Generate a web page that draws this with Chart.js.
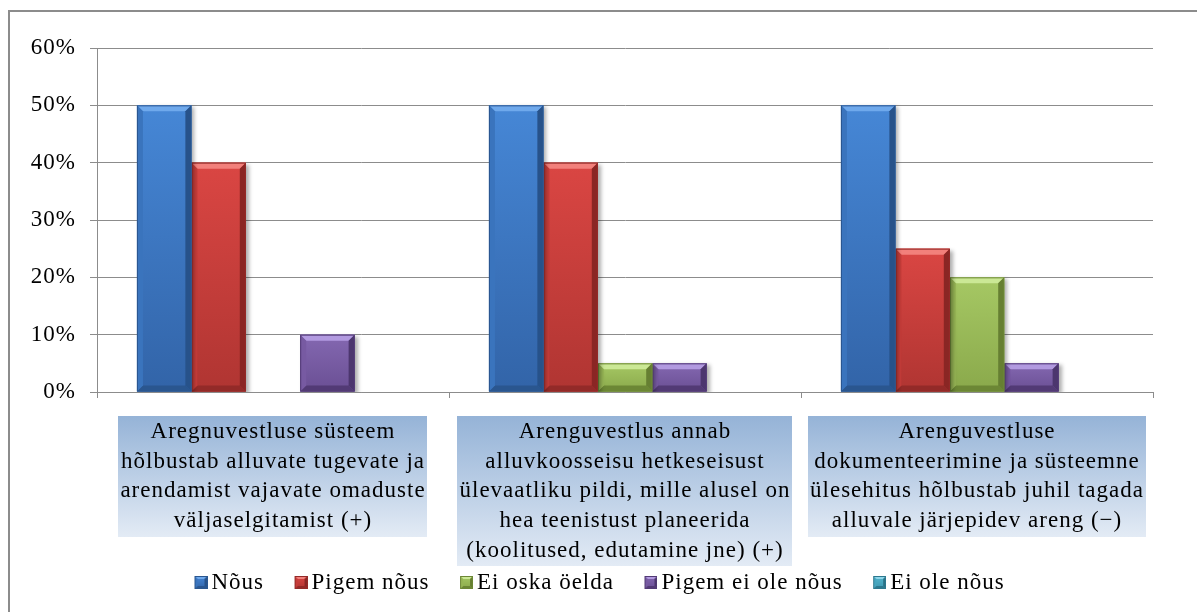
<!DOCTYPE html>
<html>
<head>
<meta charset="utf-8">
<script src="https://cdn.jsdelivr.net/npm/chart.js@4.4.1/dist/chart.umd.min.js"></script>
<style>
  html, body { margin: 0; padding: 0; background: #ffffff; }
  #wrap { position: relative; width: 1197px; height: 612px; overflow: hidden; }
  #frame { position: absolute; left: 8px; top: 10px; width: 1400px; height: 800px;
           border: 2px solid #8c8c8c; box-sizing: border-box; }
  #c { position: absolute; left: 0; top: 0; }
</style>
</head>
<body>
<div id="wrap">
  <div id="frame"></div>
  <canvas id="c" width="1197" height="612"></canvas>
</div>
<script>
// Survey statements (one entry per category, split into display lines)
const categories = [
  ['Aregnuvestluse süsteem', 'hõlbustab alluvate tugevate ja', 'arendamist vajavate omaduste', 'väljaselgitamist (+)'],
  ['Arenguvestlus annab', 'alluvkoosseisu hetkeseisust', 'ülevaatliku pildi, mille alusel on', 'hea teenistust planeerida', '(koolitused, edutamine jne) (+)'],
  ['Arenguvestluse', 'dokumenteerimine ja süsteemne', 'ülesehitus hõlbustab juhil tagada', 'alluvale järjepidev areng (−)']
];

// Answer options
const seriesNames = ['Nõus', 'Pigem nõus', 'Ei oska öelda', 'Pigem ei ole nõus', 'Ei ole nõus'];

// Share of respondents per answer, in percent
const nous        = [50, 50, 50];
const pigemNous   = [40, 40, 25];
const eiOska      = [0, 5, 20];
const pigemEiOle  = [10, 5, 5];
const eiOle       = [0, 0, 0];

// Value axis
const yMin = 0, yMax = 60, yStep = 10;

const seriesValues = [nous, pigemNous, eiOska, pigemEiOle, eiOle];

// Bevelled bar palettes
const palettes = [
  { base: '#3e7bc8', top: '#4687d6', bottom: '#3264a8', light: '#6fa9ec', dark: '#2a568f', left: '#3a74bd', right: '#27528a' },
  { base: '#cf3f3c', top: '#da4643', bottom: '#b03532', light: '#f2807b', dark: '#932a28', left: '#c63d3a', right: '#8a2624' },
  { base: '#9bbb59', top: '#a6c864', bottom: '#8aa94b', light: '#cbe895', dark: '#6c8735', left: '#97b655', right: '#667f32' },
  { base: '#7a5ea6', top: '#8468b1', bottom: '#6a4f94', light: '#b29ae0', dark: '#523a75', left: '#775aa2', right: '#4c366e' },
  { base: '#4bacc6', top: '#55b6cf', bottom: '#3d97af', light: '#8ed6ea', dark: '#2d788e', left: '#47a6bf', right: '#2a7186' }
];

const FONT_FAMILY = '"Liberation Serif", "Times New Roman", serif';
const FONT_SIZE = 23;
const LINE_H = 1.29;
const LETTER = '1px';
const TICK_LEN = 6;
const TICK_PAD = 19;
const GRID = '#8c8c8c';

// Legend marker geometry: a wide transparent canvas with the swatch at its right end
const MARK_SLOT = 30, MARK_W = 45, MARK_SIZE = 13;
const LEGEND_LEFT = 164;

function poly(ctx, pts, color) {
  ctx.beginPath();
  ctx.moveTo(pts[0][0], pts[0][1]);
  for (let i = 1; i < pts.length; i++) ctx.lineTo(pts[i][0], pts[i][1]);
  ctx.closePath();
  ctx.fillStyle = color;
  ctx.fill();
}

function bevelRect(ctx, l, t, w, h, pal, e) {
  const r = l + w, b = t + h;
  const g = ctx.createLinearGradient(0, t, 0, b);
  g.addColorStop(0, pal.top);
  g.addColorStop(1, pal.bottom);
  ctx.fillStyle = g;
  ctx.fillRect(l, t, w, h);
  poly(ctx, [[l, t], [r, t], [r - e, t + e], [l + e, t + e]], pal.light);
  poly(ctx, [[l, b], [r, b], [r - e, b - e], [l + e, b - e]], pal.dark);
  poly(ctx, [[l, t], [l + e, t + e], [l + e, b - e], [l, b]], pal.left);
  poly(ctx, [[r, t], [r - e, t + e], [r - e, b - e], [r, b]], pal.right);
  ctx.strokeStyle = pal.dark;
  ctx.lineWidth = 1;
  ctx.strokeRect(l + 0.5, t + 0.5, w - 1, h - 1);
}

function makeMarker(pal) {
  const c = document.createElement('canvas');
  c.width = MARK_W; c.height = MARK_SIZE;
  bevelRect(c.getContext('2d'), MARK_W - MARK_SIZE, 0, MARK_SIZE, MARK_SIZE, pal, 3);
  return c;
}
const markers = palettes.map(makeMarker);

// Letter spacing for all canvas text; legend placement
const spacingPlugin = {
  id: 'spacing',
  beforeUpdate(chart) { chart.ctx.letterSpacing = LETTER; },
  beforeDraw(chart) { chart.ctx.letterSpacing = LETTER; },
  afterLayout(chart) {
    if (chart.legend) chart.legend.left = LEGEND_LEFT;
  }
};

// Gradient boxes behind the category labels
const labelBoxPlugin = {
  id: 'labelBoxes',
  beforeDraw(chart) {
    const ctx = chart.ctx, xs = chart.scales.x;
    const lh = FONT_SIZE * LINE_H;
    const top = xs.top + TICK_LEN + TICK_PAD - 1;
    ctx.save();
    ctx.font = FONT_SIZE + 'px ' + FONT_FAMILY;
    ctx.letterSpacing = LETTER;
    categories.forEach((lines, i) => {
      const cx = xs.getPixelForTick(i);
      const w = Math.max(...lines.map(s => ctx.measureText(s).width)) + 4;
      const h = lines.length * lh + 2;
      const g = ctx.createLinearGradient(0, top, 0, top + h);
      g.addColorStop(0, '#95b3d7');
      g.addColorStop(1, '#e3ebf5');
      ctx.fillStyle = g;
      ctx.fillRect(Math.round(cx - w / 2), Math.round(top), Math.round(w), Math.round(h));
    });
    ctx.restore();
  }
};

// Soft shadow and bevel on every bar
const bevelPlugin = {
  id: 'bevel',
  beforeDatasetDraw(chart) {
    const ctx = chart.ctx;
    ctx.shadowColor = 'rgba(0,0,0,0.32)';
    ctx.shadowBlur = 4;
    ctx.shadowOffsetX = 3;
    ctx.shadowOffsetY = 2;
  },
  afterDatasetDraw(chart, args) {
    const ctx = chart.ctx;
    ctx.shadowColor = 'rgba(0,0,0,0)';
    ctx.shadowBlur = 0;
    ctx.shadowOffsetX = 0;
    ctx.shadowOffsetY = 0;
    const pal = palettes[args.index];
    args.meta.data.forEach(bar => {
      const p = bar.getProps(['x', 'y', 'base', 'width'], true);
      const h = p.base - p.y;
      if (h < 1) return;
      const e = Math.min(6, h / 3, p.width / 3);
      ctx.save();
      bevelRect(ctx, p.x - p.width / 2, p.y, p.width, h, pal, e);
      ctx.restore();
    });
  }
};

const chart = new Chart(document.getElementById('c'), {
  type: 'bar',
  data: {
    labels: categories,
    datasets: seriesNames.map((name, i) => ({
      label: name,
      data: seriesValues[i],
      backgroundColor: palettes[i].base,
      borderWidth: 0,
      categoryPercentage: 0.773,
      barPercentage: 1
    }))
  },
  options: {
    responsive: false,
    animation: false,
    devicePixelRatio: 1,
    layout: { padding: { left: 0, right: 44, top: 48, bottom: 8 } },
    scales: {
      x: {
        afterFit(scale) { scale.height = 173; },
        grid: { display: true, drawOnChartArea: false, drawTicks: true, tickLength: TICK_LEN, color: GRID, lineWidth: 1 },
        border: { display: true, color: GRID, width: 1 },
        ticks: {
          autoSkip: false,
          maxRotation: 0,
          minRotation: 0,
          padding: TICK_PAD,
          color: '#000000',
          font: { family: FONT_FAMILY, size: FONT_SIZE, lineHeight: LINE_H }
        }
      },
      y: {
        min: yMin,
        max: yMax,
        afterFit(scale) { scale.width = 97; },
        grid: { color: GRID, lineWidth: 1, tickLength: 7 },
        border: { display: true, color: GRID, width: 1 },
        ticks: {
          stepSize: yStep,
          padding: 14,
          color: '#000000',
          font: { family: FONT_FAMILY, size: FONT_SIZE },
          callback: v => v + '%'
        }
      }
    },
    plugins: {
      tooltip: { enabled: false },
      legend: {
        position: 'bottom',
        align: 'start',
        labels: {
          usePointStyle: true,
          pointStyleWidth: MARK_SLOT,
          padding: 6,
          color: '#000000',
          font: { family: FONT_FAMILY, size: FONT_SIZE },
          generateLabels(ch) {
            const items = Chart.defaults.plugins.legend.labels.generateLabels(ch);
            items.forEach((it, i) => { it.pointStyle = markers[i]; });
            return items;
          }
        }
      }
    }
  },
  plugins: [spacingPlugin, labelBoxPlugin, bevelPlugin]
});
</script>
</body>
</html>
